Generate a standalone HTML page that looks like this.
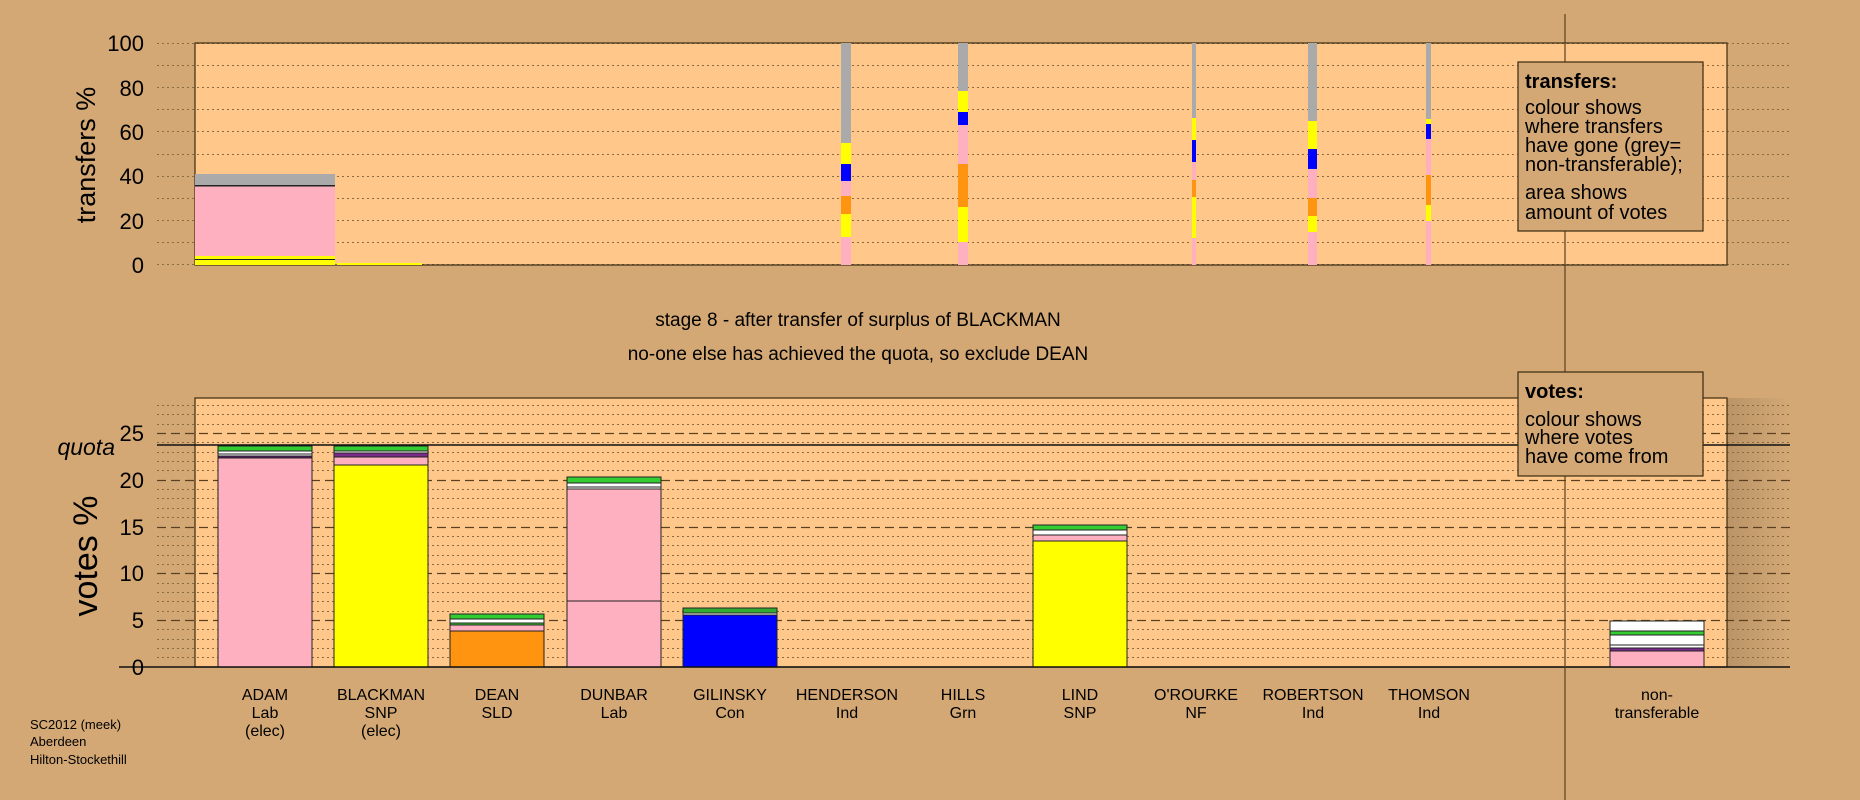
<!DOCTYPE html>
<html><head><meta charset="utf-8"><style>
html,body{margin:0;padding:0;background:#D3A875;}
svg{display:block;font-family:"Liberation Sans",sans-serif;}
</style></head><body>
<svg width="1860" height="800" viewBox="0 0 1860 800" xmlns="http://www.w3.org/2000/svg">
<rect width="1860" height="800" fill="#D3A875"/>
<defs><linearGradient id="sh" x1="0" x2="1" y1="0" y2="0"><stop offset="0" stop-color="#000" stop-opacity="0.12"/><stop offset="1" stop-color="#000" stop-opacity="0"/></linearGradient></defs>
<!-- top plot -->
<rect x="195" y="43" width="1532" height="222" fill="#FFC88A"/>
<g stroke="#8a6a40" stroke-width="1" stroke-dasharray="2,3">
<line x1="157" x2="1790" y1="43.5" y2="43.5"/><line x1="157" x2="1790" y1="65.5" y2="65.5"/><line x1="157" x2="1790" y1="87.5" y2="87.5"/><line x1="157" x2="1790" y1="109.5" y2="109.5"/><line x1="157" x2="1790" y1="131.5" y2="131.5"/><line x1="157" x2="1790" y1="154.5" y2="154.5"/><line x1="157" x2="1790" y1="176.5" y2="176.5"/><line x1="157" x2="1790" y1="198.5" y2="198.5"/><line x1="157" x2="1790" y1="220.5" y2="220.5"/><line x1="157" x2="1790" y1="242.5" y2="242.5"/><line x1="157" x2="1790" y1="264.5" y2="264.5"/>
</g>
<rect x="195" y="43" width="1532" height="222" fill="none" stroke="#3a2a10" stroke-width="1.2"/>
<!-- top bars -->
<rect x="195" y="174" width="140" height="11" fill="#AAAAAA"/>
<rect x="195" y="185" width="140" height="1.5" fill="#222"/>
<rect x="195" y="186.5" width="140" height="72" fill="#FFB0C0"/>
<rect x="195" y="256" width="140" height="3" fill="#FFFF00"/>
<rect x="195" y="259" width="140" height="1" fill="#222"/>
<rect x="195" y="260" width="140" height="5" fill="#FFFF00"/>
<rect x="337" y="263" width="85" height="2" fill="#FFFF00"/>
<g transform="translate(841,0)">
<rect y="43" width="10" height="100" fill="#AAAAAA"/><rect y="143" width="10" height="21" fill="#FFFF00"/><rect y="164" width="10" height="17" fill="#0000FF"/><rect y="181" width="10" height="15" fill="#FFB0C0"/><rect y="196" width="10" height="18" fill="#FF9410"/><rect y="214" width="10" height="23" fill="#FFFF00"/><rect y="237" width="10" height="28" fill="#FFB0C0"/></g>
<g transform="translate(958,0)">
<rect y="43" width="10" height="48" fill="#AAAAAA"/><rect y="91" width="10" height="21" fill="#FFFF00"/><rect y="112" width="10" height="13" fill="#0000FF"/><rect y="125" width="10" height="39" fill="#FFB0C0"/><rect y="164" width="10" height="43" fill="#FF9410"/><rect y="207" width="10" height="35" fill="#FFFF00"/><rect y="242" width="10" height="23" fill="#FFB0C0"/></g>
<g transform="translate(1192,0)">
<rect y="43" width="4" height="75" fill="#AAAAAA"/><rect y="118" width="4" height="22" fill="#FFFF00"/><rect y="140" width="4" height="22" fill="#0000FF"/><rect y="162" width="4" height="18" fill="#FFB0C0"/><rect y="180" width="4" height="17" fill="#FF9410"/><rect y="197" width="4" height="41" fill="#FFFF00"/><rect y="238" width="4" height="27" fill="#FFB0C0"/></g>
<g transform="translate(1308,0)">
<rect y="43" width="9" height="78" fill="#AAAAAA"/><rect y="121" width="9" height="28" fill="#FFFF00"/><rect y="149" width="9" height="20" fill="#0000FF"/><rect y="169" width="9" height="29" fill="#FFB0C0"/><rect y="198" width="9" height="18" fill="#FF9410"/><rect y="216" width="9" height="16" fill="#FFFF00"/><rect y="232" width="9" height="33" fill="#FFB0C0"/></g>
<g transform="translate(1426,0)">
<rect y="43" width="5" height="76" fill="#AAAAAA"/><rect y="119" width="5" height="5" fill="#FFFF00"/><rect y="124" width="5" height="15" fill="#0000FF"/><rect y="139" width="5" height="36" fill="#FFB0C0"/><rect y="175" width="5" height="30" fill="#FF9410"/><rect y="205" width="5" height="16" fill="#FFFF00"/><rect y="221" width="5" height="44" fill="#FFB0C0"/></g>
<g font-size="22" text-anchor="end" fill="#000">
<text x="144" y="51">100</text><text x="144" y="96">80</text><text x="144" y="140">60</text><text x="144" y="184">40</text><text x="144" y="229">20</text><text x="144" y="273">0</text>
</g>
<text transform="translate(95,155) rotate(-90)" font-size="27" text-anchor="middle">transfers %</text>
<text x="858" y="326" font-size="19" text-anchor="middle">stage 8 - after transfer of surplus of BLACKMAN</text>
<text x="858" y="360" font-size="19" text-anchor="middle">no-one else has achieved the quota, so exclude DEAN</text>
<!-- bottom plot -->
<rect x="195" y="398" width="1532" height="269" fill="#FFC88A"/>
<rect x="1727" y="398" width="63" height="269" fill="url(#sh)"/>
<g stroke="#8a6a40" stroke-width="1" stroke-dasharray="2,3">
<line x1="157" x2="1790" y1="405.5" y2="405.5"/><line x1="157" x2="1790" y1="414.5" y2="414.5"/><line x1="157" x2="1790" y1="424.5" y2="424.5"/><line x1="157" x2="1790" y1="442.5" y2="442.5"/><line x1="157" x2="1790" y1="452.5" y2="452.5"/><line x1="157" x2="1790" y1="461.5" y2="461.5"/><line x1="157" x2="1790" y1="470.5" y2="470.5"/>
<line x1="157" x2="1790" y1="489.5" y2="489.5"/><line x1="157" x2="1790" y1="498.5" y2="498.5"/><line x1="157" x2="1790" y1="508.5" y2="508.5"/><line x1="157" x2="1790" y1="517.5" y2="517.5"/>
<line x1="157" x2="1790" y1="536.5" y2="536.5"/><line x1="157" x2="1790" y1="545.5" y2="545.5"/><line x1="157" x2="1790" y1="555.5" y2="555.5"/><line x1="157" x2="1790" y1="564.5" y2="564.5"/>
<line x1="157" x2="1790" y1="583.5" y2="583.5"/><line x1="157" x2="1790" y1="592.5" y2="592.5"/><line x1="157" x2="1790" y1="601.5" y2="601.5"/><line x1="157" x2="1790" y1="611.5" y2="611.5"/>
<line x1="157" x2="1790" y1="629.5" y2="629.5"/><line x1="157" x2="1790" y1="639.5" y2="639.5"/><line x1="157" x2="1790" y1="648.5" y2="648.5"/><line x1="157" x2="1790" y1="657.5" y2="657.5"/>
</g>
<g stroke="#5a4020" stroke-width="1.2" stroke-dasharray="9,5">
<line x1="157" x2="1790" y1="433.5" y2="433.5"/><line x1="157" x2="1790" y1="480.5" y2="480.5"/><line x1="157" x2="1790" y1="527.5" y2="527.5"/><line x1="157" x2="1790" y1="573.5" y2="573.5"/><line x1="157" x2="1790" y1="620.5" y2="620.5"/>
</g>
<rect x="195" y="398" width="1532" height="269" fill="none" stroke="#3a2a10" stroke-width="1.2"/>
<g stroke="#222" stroke-width="1">
<rect x="218" y="446" width="94" height="5" fill="#33CC33"/><rect x="218" y="451" width="94" height="3" fill="#FFFFFF"/><rect x="218" y="454" width="94" height="2" fill="#FFFFFF"/><rect x="218" y="456" width="94" height="2" fill="#5a1a6a"/><rect x="218" y="458" width="94" height="209" fill="#FFB0C0"/>
<rect x="334" y="446" width="94" height="5" fill="#33CC33"/><rect x="334" y="451" width="94" height="2" fill="#FFFFFF"/><rect x="334" y="453" width="94" height="4" fill="#7a2a8a"/><rect x="334" y="457" width="94" height="8" fill="#FFB0C0"/><rect x="334" y="465" width="94" height="202" fill="#FFFF00"/>
<rect x="450" y="614" width="94" height="5" fill="#33CC33"/><rect x="450" y="619" width="94" height="4" fill="#FFFFFF"/><rect x="450" y="623" width="94" height="2" fill="#33CC33"/><rect x="450" y="625" width="94" height="6" fill="#FFB0C0"/><rect x="450" y="631" width="94" height="36" fill="#FF9410"/>
<rect x="567" y="477" width="94" height="6" fill="#33CC33"/><rect x="567" y="483" width="94" height="4" fill="#FFFFFF"/><rect x="567" y="487" width="94" height="2" fill="#FFFFFF"/><rect x="567" y="489" width="94" height="112" fill="#FFB0C0"/><rect x="567" y="601" width="94" height="66" fill="#FFB0C0"/>
<rect x="683" y="608" width="94" height="5" fill="#33AA33"/><rect x="683" y="613" width="94" height="2" fill="#FFFFFF"/><rect x="683" y="615" width="94" height="52" fill="#0000FF"/>
<rect x="1033" y="525" width="94" height="5" fill="#33CC33"/><rect x="1033" y="530" width="94" height="5" fill="#FFFFFF"/><rect x="1033" y="535" width="94" height="6" fill="#FFB0C0"/><rect x="1033" y="541" width="94" height="126" fill="#FFFF00"/>
<rect x="1610" y="621" width="94" height="10" fill="#FFFFFF"/><rect x="1610" y="631" width="94" height="4" fill="#33CC33"/><rect x="1610" y="635" width="94" height="10" fill="#FFFFFF"/><rect x="1610" y="645" width="94" height="3" fill="#FFFFFF"/><rect x="1610" y="648" width="94" height="3" fill="#7a2a8a"/><rect x="1610" y="651" width="94" height="16" fill="#FFB0C0"/>
</g>
<line x1="157" x2="1790" y1="445" y2="445" stroke="#111" stroke-width="1.5"/>
<line x1="119" x2="1790" y1="667" y2="667" stroke="#111" stroke-width="1.5"/>
<line x1="1565" x2="1565" y1="14" y2="800" stroke="#5a4020" stroke-width="1.2"/>
<g font-size="22" text-anchor="end">
<text x="144" y="441">25</text><text x="144" y="488">20</text><text x="144" y="535">15</text><text x="144" y="581">10</text><text x="144" y="628">5</text><text x="144" y="675">0</text>
</g>
<text x="115" y="455" font-size="23" font-style="italic" text-anchor="end">quota</text>
<text transform="translate(97,556) rotate(-90)" font-size="34" text-anchor="middle">votes %</text>
<g font-size="16" text-anchor="middle">
<text x="265" y="700">ADAM</text><text x="265" y="718">Lab</text><text x="265" y="736">(elec)</text>
<text x="381" y="700">BLACKMAN</text><text x="381" y="718">SNP</text><text x="381" y="736">(elec)</text>
<text x="497" y="700">DEAN</text><text x="497" y="718">SLD</text>
<text x="614" y="700">DUNBAR</text><text x="614" y="718">Lab</text>
<text x="730" y="700">GILINSKY</text><text x="730" y="718">Con</text>
<text x="847" y="700">HENDERSON</text><text x="847" y="718">Ind</text>
<text x="963" y="700">HILLS</text><text x="963" y="718">Grn</text>
<text x="1080" y="700">LIND</text><text x="1080" y="718">SNP</text>
<text x="1196" y="700">O'ROURKE</text><text x="1196" y="718">NF</text>
<text x="1313" y="700">ROBERTSON</text><text x="1313" y="718">Ind</text>
<text x="1429" y="700">THOMSON</text><text x="1429" y="718">Ind</text>
<text x="1657" y="700">non-</text><text x="1657" y="718">transferable</text>
</g>
<g font-size="13">
<text x="30" y="729">SC2012 (meek)</text><text x="30" y="746">Aberdeen</text><text x="30" y="764">Hilton-Stockethill</text>
</g>
<rect x="1518" y="62" width="185" height="169" fill="#D3A875" stroke="#3a2a10" stroke-width="1.2"/>
<g font-size="20">
<text x="1525" y="88" font-weight="bold">transfers:</text>
<text x="1525" y="114">colour shows</text><text x="1525" y="133">where transfers</text><text x="1525" y="152">have gone (grey=</text><text x="1525" y="171">non-transferable);</text>
<text x="1525" y="199">area shows</text><text x="1525" y="219">amount of votes</text>
</g>
<rect x="1518" y="372" width="185" height="104" fill="#D3A875" stroke="#3a2a10" stroke-width="1.2"/>
<g font-size="20">
<text x="1525" y="398" font-weight="bold">votes:</text>
<text x="1525" y="426">colour shows</text><text x="1525" y="444">where votes</text><text x="1525" y="463">have come from</text>
</g>
</svg>
</body></html>
